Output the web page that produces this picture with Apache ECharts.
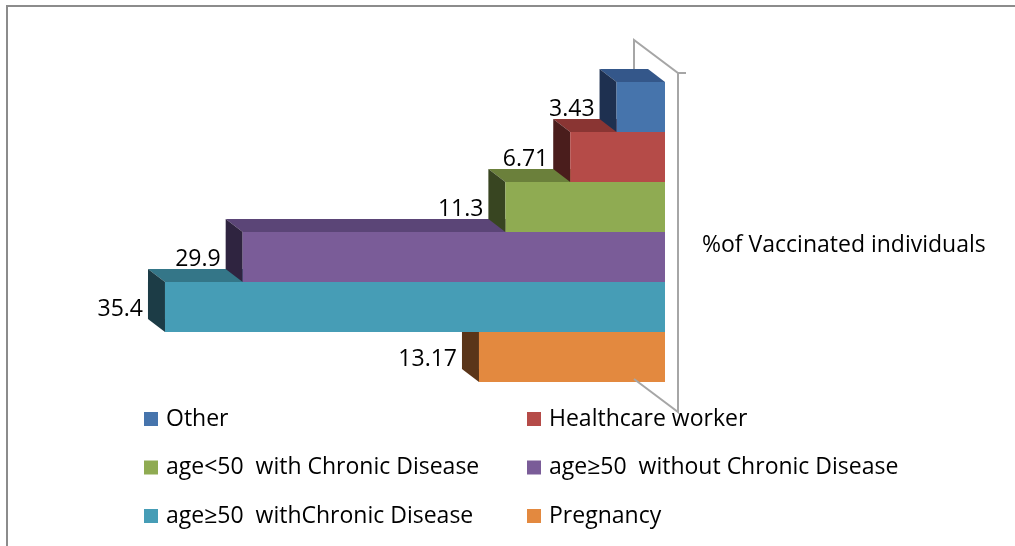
<!DOCTYPE html>
<html>
<head>
<meta charset="utf-8">
<script src="https://cdn.jsdelivr.net/npm/echarts@6/dist/echarts.min.js"></script>
<style>
  html, body { margin: 0; padding: 0; background: #fff; }
</style>
</head>
<body>
<div id="main" style="width: 1015px; height: 546px"></div>
<script>
// categories from bottom to top (first one is drawn first, at the bottom)
const categories = ['Pregnancy', 'age≥50  withChronic Disease', 'age≥50  without Chronic Disease', 'age<50  with Chronic Disease', 'Healthcare worker', 'Other']
const values = [13.17, 35.4, 29.9, 11.3, 6.71, 3.43]
const valueLabels = ['13.17', '35.4', '29.9', '11.3', '6.71', '3.43']
const legendLeftCol = ['Other', 'age<50  with Chronic Disease', 'age≥50  withChronic Disease']
const legendRightCol = ['Healthcare worker', 'age≥50  without Chronic Disease', 'Pregnancy']
const axisTitle = '%of Vaccinated individuals'

// face colours: front, top, left side
const frontColors = ['#E3893F', '#469DB6', '#7A5C98', '#8FAB52', '#B54B48', '#4674AC']
const topColors = ['#A8652E', '#347688', '#5B4577', '#6B803B', '#8A3533', '#34578A']
const sideColors = ['#5A3519', '#1C3C46', '#2F2440', '#384521', '#4A1D1C', '#1E3050']

const FONT = '"Open Sans", sans-serif'
const DX = -17, DY = -13 // depth offset of the 3D bars

var myChart = echarts.init(document.getElementById('main'))

function makeRender(i) {
  return function(params, api) {
    var val = api.value(0)
    var idx = api.value(1)
    var end = api.coord([val, idx])
    var start = api.coord([0, idx])
    var h = api.size([0, 1])[1]
    var top = end[1] - h / 2
    var bot = end[1] + h / 2
    var x1 = end[0]
    var x0 = start[0]
    return {
      type: 'group',
      children: [
        {
          type: 'polygon',
          shape: { points: [[x1, top], [x0, top], [x0 + DX, top + DY], [x1 + DX, top + DY]] },
          style: { fill: topColors[i] }
        },
        {
          type: 'polygon',
          shape: { points: [[x1, top], [x1 + DX, top + DY], [x1 + DX, bot + DY], [x1, bot]] },
          style: { fill: sideColors[i] }
        },
        {
          type: 'rect',
          shape: { x: x1, y: top, width: x0 - x1, height: h },
          style: { fill: frontColors[i] }
        },
        {
          type: 'text',
          x: x1 + DX - 5,
          y: end[1] + 2,
          style: {
            text: valueLabels[i],
            fill: '#000',
            font: '23px ' + FONT,
            align: 'right',
            verticalAlign: 'middle'
          }
        }
      ]
    }
  }
}

var series = categories.map(function(name, i) {
  return {
    name: name,
    type: 'custom',
    renderItem: makeRender(i),
    itemStyle: { color: frontColors[i] },
    encode: { x: 0, y: 1 },
    data: [[values[i], i]]
  }
})

var legendBase = {
  orient: 'vertical',
  top: 407,
  padding: 0,
  itemWidth: 14,
  itemHeight: 14,
  itemGap: 24.5,
  icon: 'rect',
  selectedMode: false,
  textStyle: { fontFamily: FONT, fontSize: 23, color: '#000', lineHeight: 24, padding: [0, 0, 0, 3] }
}

var option = {
  animation: false,
  backgroundColor: '#fff',
  grid: { left: 100, right: 350, top: 82, height: 300 },
  xAxis: {
    type: 'value',
    inverse: true,
    min: 0,
    max: 40,
    show: false
  },
  yAxis: {
    type: 'category',
    data: categories,
    show: false
  },
  legend: [
    Object.assign({ left: 144, data: legendLeftCol }, legendBase),
    Object.assign({ left: 527, data: legendRightCol }, legendBase)
  ],
  series: series
}
myChart.setOption(option)

// wall of the 3D axis and the outer frame, placed from the axis positions
var zeroTop = myChart.convertToPixel({ gridIndex: 0 }, [0, categories.length - 1])
var zeroBot = myChart.convertToPixel({ gridIndex: 0 }, [0, 0])
var half = (zeroBot[1] - zeroTop[1]) / (categories.length - 1) / 2
var gx = zeroTop[0]
var yTop = zeroTop[1] - half
var yBot = zeroBot[1] + half
var wallStyle = { stroke: '#A6A6A6', lineWidth: 2, fill: null }

myChart.setOption({
  graphic: [
    {
      type: 'polyline',
      z: -1,
      shape: { points: [[gx - 31, yBot - 3], [gx - 31, yTop - 42], [gx + 13, yTop - 9], [gx + 21, yTop - 9]] },
      style: wallStyle
    },
    {
      type: 'polyline',
      z: 10,
      shape: { points: [[gx + 13, yTop - 9], [gx + 13, yBot + 30], [gx - 31, yBot - 3]] },
      style: wallStyle
    },
    {
      type: 'polyline',
      z: 10,
      shape: { points: [[7, 546], [7, 6], [1015, 6]] },
      style: { stroke: '#8C8C8C', lineWidth: 2, fill: null }
    },
    {
      type: 'text',
      left: 702,
      top: 234,
      style: { text: axisTitle, fill: '#000', font: '23px ' + FONT }
    }
  ]
})
</script>
</body>
</html>
